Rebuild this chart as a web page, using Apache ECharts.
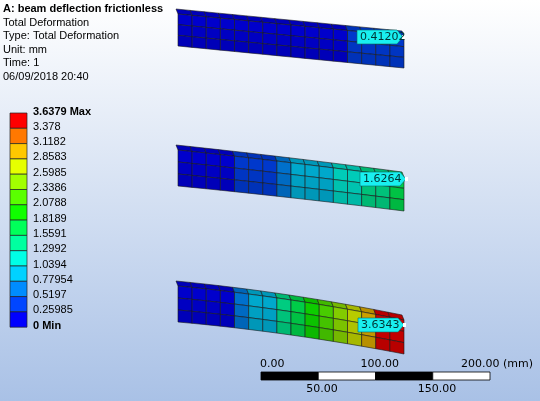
<!DOCTYPE html>
<html>
<head>
<meta charset="utf-8">
<title>beam deflection</title>
<script src="https://cdn.jsdelivr.net/npm/echarts@6/dist/echarts.min.js"></script>
<style>
  html, body { margin: 0; padding: 0; }
  #chart { width: 540px; height: 401px; }
</style>
</head>
<body>
<div id="chart"></div>
<script>
// legend bands (low -> high) and their boundary labels
var bandColors = ['#0000ff','#0046ff','#008cff','#00d2ff','#00ffe6','#00ffa0','#00ff5a','#10ff00','#5aff00','#a2ff00','#e6ff00','#ffc800','#ff7800','#ff0000'];
var bandLimits = [0, 0.25985, 0.5197, 0.77954, 1.0394, 1.2992, 1.5591, 1.8189, 2.0788, 2.3386, 2.5985, 2.8583, 3.1182, 3.378, 3.6379];
var limitLabels = ['0 Min','0.25985','0.5197','0.77954','1.0394','1.2992','1.5591','1.8189','2.0788','2.3386','2.5985','2.8583','3.1182','3.378','3.6379 Max'];

// deflection per beam segment (mm), root -> tip
var beamTop = [0.01,0.02,0.04,0.06,0.08,0.1,0.12,0.14,0.16,0.18,0.2,0.22,0.3,0.34,0.38,0.41];
var beamMid = [0.04,0.08,0.12,0.18,0.3,0.4,0.5,0.62,0.8,0.9,1.0,1.1,1.25,1.35,1.5,1.62];
var beamBot = [0.08,0.12,0.18,0.24,0.6,0.8,1.0,1.3,1.6,1.9,2.15,2.4,2.7,3.0,3.4,3.63];
var probeValues = ['0.41202', '1.6264', '3.6343'];

var scaleTop = ['0.00', '100.00', '200.00 (mm)'];
var scaleBottom = ['50.00', '150.00'];

// beam placement on screen: [left top y, left bottom y, right top y, right bottom y]
var beamFrames = [[14, 46, 36, 68], [150, 186, 174, 208], [286, 322, 308, 342]];
var beamX0 = 178, beamX1 = 404, segCount = 16;

var data = [];
[beamTop, beamMid, beamBot].forEach(function (arr, b) {
    arr.forEach(function (v, i) { data.push([b, i, v]); });
});

function bandColor(v) {
    for (var k = 0; k < bandColors.length; k++) {
        if (v <= bandLimits[k + 1]) return bandColors[k];
    }
    return bandColors[bandColors.length - 1];
}

function shade(hex, f) {
    var r = parseInt(hex.substr(1, 2), 16), g = parseInt(hex.substr(3, 2), 16), b = parseInt(hex.substr(5, 2), 16);
    return 'rgb(' + Math.round(r * f) + ',' + Math.round(g * f) + ',' + Math.round(b * f) + ')';
}

// sag of beam b at fraction t of length (pixels)
function sag(b, t) {
    var tip = [0, 3, 12][b];
    return tip * t * t;
}

function renderCell(params, api) {
    var b = api.value(0), i = api.value(1), v = api.value(2);
    var fr = beamFrames[b];
    function pt(t, side) {
        var x = beamX0 + (beamX1 - beamX0) * t;
        var top = fr[0] + (fr[2] - fr[0]) * t + sag(b, t);
        var bot = fr[1] + (fr[3] - fr[1]) * t + sag(b, t);
        return api.coord([x, top + (bot - top) * side]);
    }
    var t0 = i / segCount, t1 = (i + 1) / segCount;
    var col = bandColor(v);
    var children = [];
    // top face
    var a0 = pt(t0, 0), a1 = pt(t1, 0);
    children.push({ type: 'polygon', shape: { points: [[a0[0] - 2, a0[1] - 5], [a1[0] - 2, a1[1] - 5], a1, a0] },
        style: { fill: shade(col, 0.72), stroke: '#1a1a1a', lineWidth: 0.6 } });
    // front face, 3 element rows
    for (var r = 0; r < 3; r++) {
        var p0 = pt(t0, r / 3), p1 = pt(t1, r / 3), p2 = pt(t1, (r + 1) / 3), p3 = pt(t0, (r + 1) / 3);
        children.push({ type: 'polygon', shape: { points: [p0, p1, p2, p3] },
            style: { fill: shade(col, 0.8 - r * 0.04), stroke: '#1a1a1a', lineWidth: 0.6 } });
    }
    return { type: 'group', children: children };
}

var graphics = [];
var Z = 100;
// header text
var header = ['Total Deformation', 'Type: Total Deformation', 'Unit: mm', 'Time: 1', '06/09/2018 20:40'];
graphics.push({ type: 'text', z: Z, left: 3, top: 3, style: { text: 'A: beam deflection frictionless', font: 'bold 11px "Liberation Sans"', fill: '#000' } });
header.forEach(function (s, k) {
    graphics.push({ type: 'text', z: Z, left: 3, top: 17 + k * 13.5, style: { text: s, font: '11px "Liberation Sans"', fill: '#000' } });
});
// legend bar
var barTop = 113, bandH = 15.3;
bandColors.forEach(function (c, k) {
    var idx = bandColors.length - 1 - k;
    graphics.push({ type: 'rect', z: Z, shape: { x: 10, y: barTop + k * bandH, width: 17, height: bandH },
        style: { fill: bandColors[idx], stroke: '#222', lineWidth: 0.7 } });
});
limitLabels.slice().reverse().forEach(function (s, k) {
    var bold = (k === 0 || k === limitLabels.length - 1);
    graphics.push({ type: 'text', z: Z, left: 33, top: barTop - 7 + k * bandH,
        style: { text: s, font: (bold ? 'bold ' : '') + '11px "Liberation Sans"', fill: '#000' } });
});
// probes
var probePos = [[357, 30], [360, 172], [358, 318]];
probeValues.forEach(function (s, k) {
    var x = probePos[k][0], y = probePos[k][1];
    graphics.push({ type: 'polygon', z: Z, shape: { points: [[x, y], [x + 40, y], [x + 46, y + 7], [x + 40, y + 14], [x, y + 14]] },
        style: { fill: '#19f0f0', stroke: '#0a6a6a', lineWidth: 0.6 } });
    graphics.push({ type: 'text', z: Z + 1, left: x + 3, top: y + 2, style: { text: s, font: '11px "DejaVu Sans"', fill: '#003333' } });
    graphics.push({ type: 'rect', z: Z, shape: { x: x + 45, y: y + 5, width: 3, height: 4 }, style: { fill: '#fff' } });
});
// scale bar
var sx0 = 261, segW = 57.25;
for (var k = 0; k < 4; k++) {
    graphics.push({ type: 'rect', z: Z, shape: { x: sx0 + k * segW, y: 372, width: segW, height: 8 },
        style: { fill: k % 2 ? '#fff' : '#000', stroke: '#000', lineWidth: 0.8 } });
}
scaleTop.forEach(function (s, k) {
    graphics.push({ type: 'text', z: Z, left: sx0 - 1 + k * 2 * segW - (k === 1 ? 14 : 0) - (k === 2 ? 28 : 0), top: 359,
        style: { text: s, font: '11px "DejaVu Sans"', fill: '#000' } });
});
scaleBottom.forEach(function (s, k) {
    graphics.push({ type: 'text', z: Z, left: sx0 + segW + k * 2 * segW - 12 - k * 3, top: 384,
        style: { text: s, font: '11px "DejaVu Sans"', fill: '#000' } });
});

var chart = echarts.init(document.getElementById('chart'));
chart.setOption({
    animation: false,
    backgroundColor: new echarts.graphic.LinearGradient(0, 0, 0, 1, [
        { offset: 0, color: '#ffffff' }, { offset: 1, color: '#a9c1e6' }
    ]),
    grid: { left: 0, right: 0, top: 0, bottom: 0 },
    xAxis: { type: 'value', min: 0, max: 540, show: false },
    yAxis: { type: 'value', min: 0, max: 401, inverse: true, show: false },
    series: [{ type: 'custom', renderItem: renderCell, data: data, z: 1 }],
    graphic: graphics
});
</script>
</body>
</html>
